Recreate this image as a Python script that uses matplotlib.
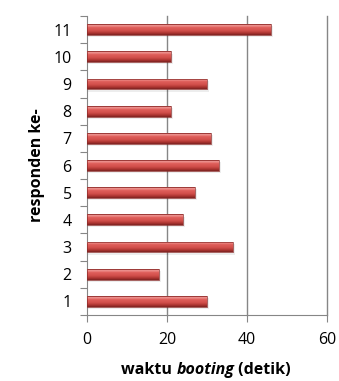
import matplotlib
matplotlib.use("Agg")
import matplotlib.pyplot as plt
import numpy as np
from matplotlib.colors import LinearSegmentedColormap
from matplotlib.patches import Rectangle

responden = [1, 2, 3, 4, 5, 6, 7, 8, 9, 10, 11]
waktu = [30, 18, 36.5, 24, 27, 33, 31, 21, 30, 21, 46]
xticks = [0, 20, 40, 60]

plt.rcParams['font.family'] = ['Open Sans', 'DejaVu Sans']

fig = plt.figure(figsize=(3.39, 3.81), dpi=100)
ax = fig.add_axes([87/339, 1-315/381, 240/339, 299/381])

grid_c = '#868686'
bar_h = 0.4
cmap = LinearSegmentedColormap.from_list('bev', [
    (0.0, '#b84a48'), (0.12, '#f29c99'), (0.3, '#e0605c'),
    (0.6, '#d24f4b'), (0.85, '#a8322f'), (1.0, '#7a2220')])
grad = np.linspace(0, 1, 64).reshape(-1, 1)

for y, v in zip(responden, waktu):
    sh = Rectangle((0, y - bar_h/2 - 0.08), v + 0.6, bar_h, facecolor='#000000',
                   alpha=0.07, edgecolor='none', zorder=2)
    ax.add_patch(sh)
    im = ax.imshow(grad, cmap=cmap, aspect='auto', interpolation='bilinear',
                   extent=[0, v, y - bar_h/2, y + bar_h/2], origin='upper', zorder=3)
    rect = Rectangle((0, y - bar_h/2), v, bar_h, facecolor='none', edgecolor='none')
    ax.add_patch(rect)
    im.set_clip_path(rect)
    ax.add_patch(Rectangle((0, y - bar_h/2), v, bar_h, facecolor='none',
                           edgecolor='#8a2a28', linewidth=0.5, zorder=4))

ax.set_xlim(0, 60)
ax.set_ylim(0.5, 11.5)
ax.set_xticks(xticks)
ax.set_xticklabels([str(t) for t in xticks], fontsize=11.5)
ax.set_yticks(responden)
ax.set_yticklabels([str(r) for r in responden], fontsize=11.5)
ax.tick_params(axis='y', length=0, pad=11)
ax.set_yticks(np.arange(0.5, 12, 1), minor=True)
ax.tick_params(axis='y', which='minor', length=5, color=grid_c, width=0.8)
ax.tick_params(axis='x', length=5, color=grid_c, width=0.8, pad=7)

for x in xticks[1:]:
    ax.axvline(x, color=grid_c, linewidth=1.0, zorder=1, clip_on=False)

for s in ['top', 'right']:
    ax.spines[s].set_visible(False)
for s in ['left', 'bottom']:
    ax.spines[s].set_color(grid_c)
    ax.spines[s].set_linewidth(0.8)

fig.text(37/339, 1-165/381, 'responden ke-', rotation=90, fontsize=11.5,
         fontweight='bold', ha='center', va='center')

parts = [('waktu ', 'normal'), ('booting', 'italic'), (' (detik)', 'normal')]
fig.canvas.draw()
r = fig.canvas.get_renderer()
texts = []
widths = []
for s, st in parts:
    t = fig.text(0, 1-370/381, s, fontsize=11.5, fontweight='bold', style=st,
                 va='center', ha='left')
    bb = t.get_window_extent(renderer=r)
    texts.append(t)
    widths.append(bb.width)
total = sum(widths)
x0 = 206 - total/2
for t, w in zip(texts, widths):
    t.set_x(x0/339)
    x0 += w

fig.savefig('out.png', dpi=100)
